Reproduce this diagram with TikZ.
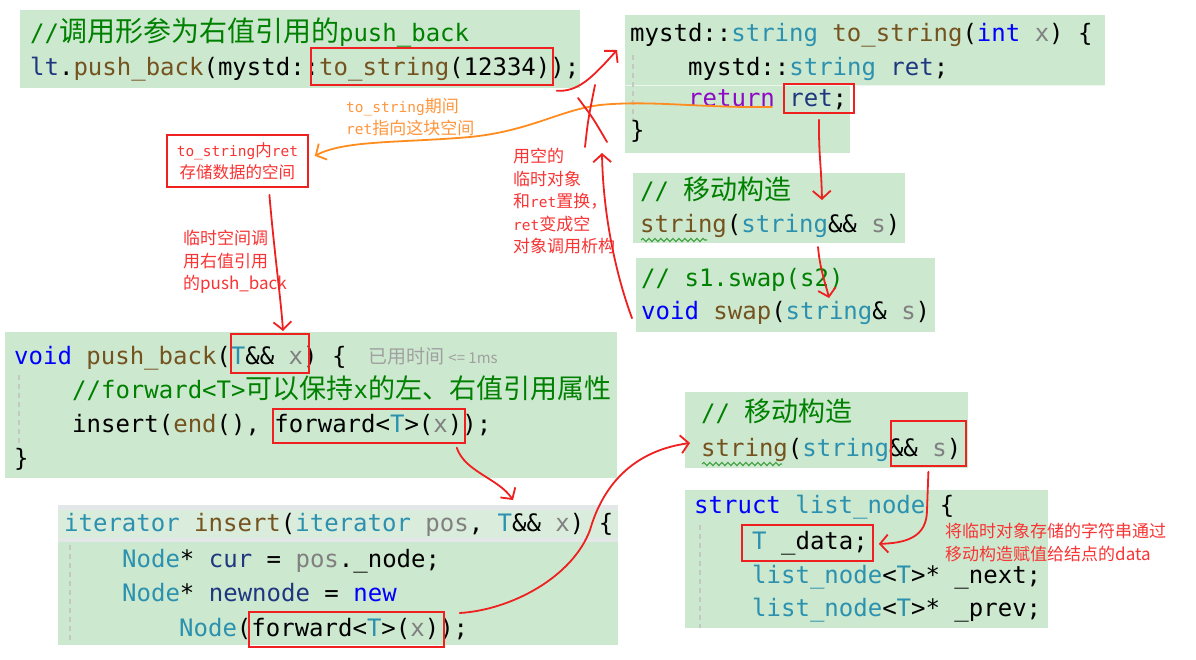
\documentclass[tikz,border=0pt]{standalone}
\usepackage{fontspec}
\setmonofont{DejaVu Sans Mono}
\newfontfamily\cjk{Noto Sans CJK SC}
\usetikzlibrary{arrows.meta,decorations.pathmorphing,calc}
\frenchspacing
\definecolor{bg}{RGB}{204,232,207}
\definecolor{cmc}{RGB}{0,128,0}
\definecolor{kwc}{RGB}{0,0,255}
\definecolor{tyc}{RGB}{43,145,175}
\definecolor{fnc}{RGB}{116,83,31}
\definecolor{pac}{RGB}{128,128,128}
\definecolor{vrc}{RGB}{31,55,127}
\definecolor{rtc}{RGB}{143,8,196}
\definecolor{hr}{RGB}{238,32,32}
\definecolor{atc}{RGB}{248,52,52}
\definecolor{og}{RGB}{255,140,30}
\definecolor{ogt}{RGB}{255,150,60}
\definecolor{gyc}{RGB}{160,160,160}
\definecolor{guide}{RGB}{195,200,195}
\definecolor{hdr}{RGB}{218,236,219}
\definecolor{hdrl}{RGB}{228,231,232}
\definecolor{wav}{RGB}{60,160,60}
\newcommand\cKw[1]{\textcolor{kwc}{#1}}
\newcommand\cTy[1]{\textcolor{tyc}{#1}}
\newcommand\cFn[1]{\textcolor{fnc}{#1}}
\newcommand\cPa[1]{\textcolor{pac}{#1}}
\newcommand\cVr[1]{\textcolor{vrc}{#1}}
\newcommand\cRt[1]{\textcolor{rtc}{#1}}
\newcommand\cCm[1]{\textcolor{cmc}{#1}}
\newcommand\zhA[1]{{\cjk\fontsize{28pt}{28pt}\selectfont #1}}
\newcommand\zh[1]{{\cjk\fontsize{27pt}{27pt}\selectfont #1}}
\newcommand\am[1]{{\ttfamily\fontsize{14.5pt}{22.5pt}\selectfont #1}}
\tikzset{
  code/.style={anchor=base west, inner sep=0pt, font=\fontsize{24pt}{24pt}\selectfont\ttfamily},
  cbox/.style={anchor=north west, fill=bg, inner sep=0pt, draw=none},
  rbox/.style={anchor=north west, draw=hr, line width=1.8pt, inner sep=0pt},
  hand/.style={draw=hr, line width=1.8pt, line cap=round, line join=round, -{Straight Barb[length=8pt,width=18pt]}},
  hline/.style={draw=hr, line width=1.8pt, line cap=round},
  ann/.style={anchor=north west, inner sep=0pt, align=left, text=atc, font=\cjk\fontsize{17pt}{22.5pt}\selectfont},
  guideline/.style={draw=guide, line width=1.2pt, dash pattern=on 5pt off 4pt},
  wavy/.style={draw=wav, line width=1.1pt, decorate, decoration={snake, amplitude=1.6pt, segment length=6pt}}
}
\begin{document}
\begin{tikzpicture}[x=1pt,y=-1pt]
\useasboundingbox (0,0) rectangle (1196,659);
\fill[white] (0,0) rectangle (1196,659);
% ---------- box A
\node[cbox, minimum width=560pt, minimum height=78pt] (bA) at (20,10) {};
\node[code] (a1) at (30,41) {\cCm{//\zhA{调用形参为右值引用的}push\_back}};
\node[code] (a2) at (30,75) {\cVr{lt}.\cFn{push\_back}(mystd::\cFn{to\_string}(12334));};
\node[rbox, minimum width=242pt, minimum height=37pt] (rA) at (310,47) {};
% ---------- box B
\node[cbox, minimum width=480pt, minimum height=70pt] (bB1) at (625,15) {};
\node[cbox, minimum width=225pt, minimum height=68pt] (bB2) at (625,85) {};
\draw[white!60!bg, line width=1pt] (bB1.south west) -- (bB1.south east);
\draw[guideline] (633,55) -- (633,120);
\node[code] (b1) at (630,41) {mystd::\cTy{string} \cFn{to\_string}(\cKw{int} \cPa{x}) \{};
\node[code] (b2) at (688,75) {mystd::\cTy{string} \cVr{ret};};
\node[code] (b3) at (688,106) {\cRt{return} \cVr{ret};};
\node[code] (b4) at (630,138) {\}};
\node[rbox, minimum width=70pt, minimum height=29pt] (rRet) at (783,83) {};
% ---------- box C
\node[cbox, minimum width=272pt, minimum height=70pt] (bC) at (633,173) {};
\node[code] (c1) at (640,199) {\cCm{// \zh{移动构造}}};
\node[code] (c2) at (640,232) {\cFn{string}(\cTy{string}\&\& \cPa{s})};
\draw[wavy] (641,240) -- (707,240);
% ---------- box D
\node[cbox, minimum width=299pt, minimum height=74pt] (bD) at (636,258) {};
\node[code] (d1) at (641,286) {\cCm{// s1.swap(s2)}};
\node[code] (d2) at (641,319) {\cKw{void} \cFn{swap}(\cTy{string}\& \cPa{s})};
% ---------- box E
\node[cbox, minimum width=612pt, minimum height=146pt] (bE) at (5,332) {};
\draw[guideline] (19,375) -- (19,445);
\node[code] (e1) at (14,364) {\cKw{void} \cFn{push\_back}(\cTy{T}\&\& \cPa{x}) \{};
\node[anchor=base west, inner sep=0pt, text=gyc, font=\cjk\fontsize{19pt}{19pt}\selectfont] (note) at (368,363) {已用时间 {\fontsize{15pt}{15pt}\selectfont <= 1ms}};
\node[code] (e2) at (72,398) {\cCm{//forward<T>\zh{可以保持}x\zh{的左、右值引用属性}}};
\node[code] (e3) at (72,432) {insert(\cFn{end}(), forward<\cTy{T}>(\cPa{x}));};
\node[code] (e4) at (14,466) {\}};
\node[rbox, minimum width=78pt, minimum height=39pt] (rT) at (230,333) {};
\node[rbox, minimum width=192pt, minimum height=34pt] (rF) at (272,408) {};
% ---------- box F
\node[cbox, minimum width=560pt, minimum height=140pt] (bF) at (58,505) {};
\fill[hdrl] (58,505) rectangle (618,542);
\fill[hdr] (58,510) rectangle (618,538);
\draw[guideline] (70,545) -- (70,640);
\node[code] (f1) at (64,531) {\cTy{iterator} \cFn{insert}(\cTy{iterator} \cPa{pos}, \cTy{T}\&\& \cPa{x}) \{};
\node[code] (f2) at (122,567) {\cTy{Node}* \cVr{cur} = \cPa{pos}.\_node;};
\node[code] (f3) at (122,601) {\cTy{Node}* \cVr{newnode} = \cKw{new}};
\node[code] (f4) at (179,636) {\cTy{Node}(forward<\cTy{T}>(\cPa{x}));};
\node[rbox, minimum width=195pt, minimum height=35pt] (rF2) at (248,611) {};
% ---------- box G
\node[cbox, minimum width=283pt, minimum height=76pt] (bG) at (685,392) {};
\node[code] (g1) at (701,421) {\cCm{// \zh{移动构造}}};
\node[code] (g2) at (701,456) {\cFn{string}(\cTy{string}\&\& \cPa{s})};
\draw[wavy] (702,464) -- (782,464);
\node[rbox, minimum width=75pt, minimum height=45pt] (rG) at (890,420) {};
% ---------- box H
\node[cbox, minimum width=363pt, minimum height=138pt] (bH) at (685,490) {};
\draw[guideline] (700,525) -- (700,628);
\node[code] (h1) at (694,513) {\cKw{struct} \cTy{list\_node} \{};
\node[code] (h2) at (752,549) {\cTy{T} \_data;};
\node[code] (h3) at (752,583) {\cTy{list\_node}<\cTy{T}>* \_next;};
\node[code] (h4) at (752,616) {\cTy{list\_node}<\cTy{T}>* \_prev;};
\node[rbox, minimum width=131pt, minimum height=36pt] (rData) at (741,524) {};
% ---------- annotations
\node[draw=hr, line width=1.8pt, fill=white, minimum width=141pt, minimum height=52pt, anchor=north west, align=center, inner sep=0pt, text=atc, font=\cjk\fontsize{16.5pt}{22pt}\selectfont] (ts) at (166,134) {\am{to\_string}内\am{ret}\\存储数据的空间};
\node[ann, text=ogt] (otx) at (346,98) {\am{to\_string}期间\\\am{ret}指向这块空间};
\node[ann] (swapnote) at (513,148) {用空的\\临时对象\\和\am{ret}置换，\\\am{ret}变成空\\对象调用析构};
\node[ann] (pbnote) at (183,230) {临时空间调\\用右值引用\\的push\_back};
\node[ann] (datanote) at (945,523) {将临时对象存储的字符串通过\\移动构造赋值给结点的data};
% ---------- connectors
\coordinate (oS) at (772,107);
\draw[og, line width=1.8pt, line cap=round, -{Straight Barb[length=8pt,width=18pt]}] (oS) .. controls (700,108) and (650,100) .. (600,105) .. controls (560,110) and (530,131) .. (470,137) .. controls (400,143) and (345,140) .. ($(ts.east)+(6,-5)$);
\coordinate (tB) at (617,50);
\draw[hand] ($(rA.south east)+(3,5)$) .. controls (578,92) and (592,78) .. (tB);
\draw[hline] (585,147) .. controls (588,120) .. (595,85);
\draw[hline] (578,98) .. controls (593,118) .. (607,142);
\coordinate (tC) at (822,200);
\draw[hand] ($(rRet.south)+(0,6)$) .. controls +(0,40) and +(-1,-40) .. (tC);
\coordinate (sD) at (818,247);
\coordinate (tD) at (829,298);
\draw[hand] (sD) .. controls (820,270) and (826,285) .. (tD);
\coordinate (tUp) at (602,153);
\draw[hand] ($(bD.west)+(-4,23)$) .. controls (616,275) and (603,215) .. (tUp);
\coordinate (tT) at (283,331);
\draw[hand] ($(ts.south)+(32,7)$) .. controls (274,250) and (281,300) .. (tT);
\coordinate (tI) at (513,500);
\draw[hand] ($(rF.south east)+(-9,4)$) .. controls (465,472) and (498,478) .. (tI);
\coordinate (tG) at (690,443);
\draw[hand] ($(rF2.north east)+(15,2)$) .. controls (510,610) and (572,578) .. (590,530) .. controls (600,495) and (625,452) .. (tG);
\draw[hand] ($(rG.south)+(0,5)$) -- (927,510) .. controls (927,538) and (905,543) .. ($(rData.east)+(5,1)$);
\end{tikzpicture}
\end{document}
